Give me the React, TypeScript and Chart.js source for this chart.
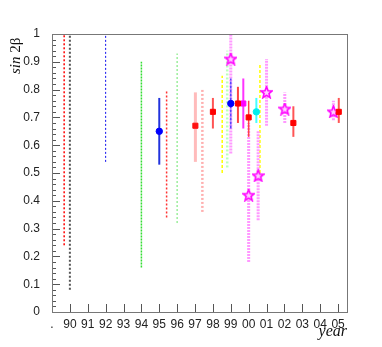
import React, { useEffect, useRef } from "react";
import { Chart, registerables } from "chart.js";

Chart.register(...registerables);

// x tick labels (years)
const yearTicks = [1989, 1990, 1991, 1992, 1993, 1994, 1995, 1996, 1997, 1998, 1999, 2000, 2001, 2002, 2003, 2004, 2005];
const yearLabels = [".", "90", "91", "92", "93", "94", "95", "96", "97", "98", "99", "00", "01", "02", "03", "04", "05"];

// ranges without central value (dotted lines)
const rangeYears = [1989.68, 1990.0, 1992.0, 1994.0, 1995.41, 1996.0, 1997.41, 1998.52, 1998.8, 2000.63];
const rangeLow = [0.24, 0.08, 0.54, 0.16, 0.34, 0.32, 0.36, 0.5, 0.52, 0.5];
const rangeHigh = [1.0, 1.0, 1.0, 0.9, 0.8, 0.93, 0.8, 0.85, 0.94, 0.89];

// measurements with central value and error bars
const measYears = [1995.0, 1997.02, 1998.0, 1999.0, 1999.4, 1999.7, 2000.0, 2000.43, 2002.5, 2005.04];
const measValues = [0.65, 0.67, 0.72, 0.75, 0.75, 0.75, 0.7, 0.72, 0.68, 0.72];
const measLow = [0.53, 0.54, 0.66, 0.66, 0.68, 0.66, 0.63, 0.68, 0.63, 0.68];
const measHigh = [0.77, 0.79, 0.77, 0.84, 0.81, 0.84, 0.76, 0.77, 0.74, 0.77];

// star-marked results with dotted (wide) error ranges
const starYears = [1999.0, 2000.0, 2000.53, 2001.0, 2002.02, 2004.74];
const starValues = [0.91, 0.42, 0.49, 0.79, 0.73, 0.72];
const starLow = [0.57, 0.18, 0.33, 0.67, 0.68, 0.69];
const starHigh = [1.0, 0.68, 0.65, 0.91, 0.79, 0.76];

// styles (kept separate from data)
const rangeStyles = [
  { color: "#ff0000", width: 1.5, dash: [2, 2] },
  { color: "#555555", width: 2, dash: [2, 2] },
  { color: "#1010ee", width: 1, dash: [2, 2] },
  { color: "#33dd33", width: 1.5, dash: [2, 1] },
  { color: "#ff3333", width: 1.5, dash: [2, 2] },
  { color: "#99ee99", width: 1.5, dash: [2, 2] },
  { color: "#ffb0b0", width: 2.5, dash: [2, 2] },
  { color: "#ffff00", width: 1.5, dash: [3, 2] },
  { color: "#bbffbb", width: 2.5, dash: [2, 2] },
  { color: "#ffff00", width: 1.5, dash: [3, 2] },
];

const measStyles = [
  { bar: "#2233dd", width: 2, dash: [], marker: "#0000ff", shape: "circle" },
  { bar: "#ffbbbb", width: 3, dash: [], marker: "#ff1111", shape: "rect" },
  { bar: "#ff5555", width: 2, dash: [], marker: "#ff0000", shape: "rect" },
  { bar: "#5544ff", width: 1.5, dash: [3, 1], marker: "#0000ff", shape: "circle" },
  { bar: "#ff4444", width: 2, dash: [], marker: "#ff0000", shape: "rect" },
  { bar: "#ff33ff", width: 2, dash: [], marker: "#ff00ff", shape: "rect" },
  { bar: "#ff4444", width: 1.5, dash: [], marker: "#ff0000", shape: "rect" },
  { bar: "#44ffff", width: 2, dash: [], marker: "#00eeee", shape: "circle" },
  { bar: "#ff5555", width: 2, dash: [], marker: "#ff0000", shape: "rect" },
  { bar: "#ff5555", width: 2, dash: [], marker: "#ff0000", shape: "rect" },
];

function makeStar(): HTMLCanvasElement {
  const c = document.createElement("canvas");
  c.width = 13;
  c.height = 13;
  const ctx = c.getContext("2d")!;
  const cx = 6.5, cy = 6.8, R = 6, r = 2.6;
  ctx.beginPath();
  for (let i = 0; i < 10; i++) {
    const rad = i % 2 === 0 ? R : r;
    const a = -Math.PI / 2 + (i * Math.PI) / 5;
    const px = cx + rad * Math.cos(a);
    const py = cy + rad * Math.sin(a);
    if (i === 0) ctx.moveTo(px, py);
    else ctx.lineTo(px, py);
  }
  ctx.closePath();
  ctx.fillStyle = "#ffd0ff";
  ctx.fill();
  ctx.strokeStyle = "#ff00ff";
  ctx.lineWidth = 1.6;
  ctx.stroke();
  return c;
}

const framePlugin = {
  id: "frame",
  afterDatasetsDraw(chart: any) {
    const { ctx, chartArea } = chart;
    const xs = chart.scales.x;
    const ys = chart.scales.y;
    const { left, right, top, bottom } = chartArea;
    ctx.save();
    ctx.strokeStyle = "#555555";
    ctx.lineWidth = 1;
    // ticks
    ctx.beginPath();
    for (let i = 1; i < yearTicks.length; i++) {
      const px = Math.round(xs.getPixelForValue(yearTicks[i])) + 0.5;
      ctx.moveTo(px, bottom);
      ctx.lineTo(px, bottom - 8);
    }
    for (let k = 0; k <= 50; k++) {
      const v = k / 50;
      const py = Math.round(ys.getPixelForValue(v)) + 0.5;
      const len = k % 5 === 0 ? 8 : 4;
      ctx.moveTo(left, py);
      ctx.lineTo(left + len, py);
    }
    ctx.stroke();
    // frame
    ctx.strokeStyle = "#777777";
    ctx.strokeRect(Math.round(left) + 0.5, Math.round(top) + 0.5, Math.round(right - left), Math.round(bottom - top));
    // y title
    ctx.fillStyle = "#111111";
    ctx.translate(16, 74);
    ctx.rotate(-Math.PI / 2);
    ctx.textBaseline = "middle";
    ctx.textAlign = "left";
    ctx.font = "italic 15px 'Liberation Serif'";
    ctx.fillText("sin", 0, 0);
    const w = ctx.measureText("sin ").width;
    ctx.font = "15px 'Liberation Serif'";
    ctx.fillText("2β", w, 0);
    ctx.restore();
    // x title
    ctx.save();
    ctx.fillStyle = "#111111";
    ctx.font = "italic 16px 'Liberation Serif'";
    ctx.textAlign = "right";
    ctx.textBaseline = "alphabetic";
    ctx.fillText("year", 347, 336);
    ctx.restore();
  },
};

export default function App() {
  const ref = useRef<HTMLCanvasElement | null>(null);
  useEffect(() => {
    if (!ref.current) return;
    const star = makeStar();
    const datasets: any[] = [];
    measYears.forEach((x, i) => {
      const s = measStyles[i];
      datasets.push({
        data: [
          { x, y: measLow[i] },
          { x, y: measValues[i] },
          { x, y: measHigh[i] },
        ],
        showLine: true,
        borderColor: s.bar,
        borderWidth: s.width,
        borderDash: s.dash,
        pointRadius: [0, s.shape === "rect" ? 3.6 : 3.2, 0],
        pointStyle: s.shape,
        pointBackgroundColor: s.marker,
        pointBorderColor: s.marker,
        pointBorderWidth: 1,
        order: 0,
      });
    });
    starYears.forEach((x, i) => {
      datasets.push({
        data: [
          { x, y: starLow[i] },
          { x, y: starValues[i] },
          { x, y: starHigh[i] },
        ],
        showLine: true,
        borderColor: "#ff99ff",
        borderWidth: 3,
        borderDash: [2, 1],
        pointRadius: [0, 6, 0],
        pointStyle: star,
        order: 1,
      });
    });
    rangeYears.forEach((x, i) => {
      const s = rangeStyles[i];
      datasets.push({
        data: [
          { x, y: rangeLow[i] },
          { x, y: rangeHigh[i] },
        ],
        showLine: true,
        borderColor: s.color,
        borderWidth: s.width,
        borderDash: s.dash,
        pointRadius: 0,
        order: 2,
      });
    });

    const chart = new Chart(ref.current, {
      type: "scatter",
      data: { datasets },
      options: {
        animation: false,
        responsive: true,
        maintainAspectRatio: false,
        layout: { padding: { top: 34, right: 35, left: 0, bottom: 0 } },
        plugins: { legend: { display: false }, tooltip: { enabled: false } },
        scales: {
          x: {
            type: "linear",
            min: 1989,
            max: 2005.5,
            grid: { display: false, drawTicks: false },
            border: { display: false },
            afterFit: (s: any) => {
              s.height = 35;
            },
            afterBuildTicks: (s: any) => {
              s.ticks = yearTicks.map((v) => ({ value: v }));
            },
            ticks: {
              autoSkip: false,
              maxRotation: 0,
              padding: 5,
              color: "#222222",
              font: { family: "'Liberation Sans'", size: 12 },
              callback: (v: any) => {
                const idx = yearTicks.indexOf(Number(v));
                return idx >= 0 ? yearLabels[idx] : "";
              },
            },
          },
          y: {
            type: "linear",
            min: 0,
            max: 1,
            grid: { display: false, drawTicks: false },
            border: { display: false },
            afterFit: (s: any) => {
              s.width = 52;
            },
            ticks: {
              stepSize: 0.1,
              padding: 12,
              color: "#222222",
              font: { family: "'Liberation Sans'", size: 12 },
              callback: (v: any) => {
                const n = Number(v);
                if (Math.abs(n) < 1e-9) return "0";
                if (Math.abs(n - 1) < 1e-9) return "1";
                return n.toFixed(1);
              },
            },
          },
        },
      },
      plugins: [framePlugin],
    });
    return () => chart.destroy();
  }, []);
  return (
    <div style={{ position: "fixed", left: 0, top: 0, width: 382, height: 347, background: "#fff" }}>
      <canvas ref={ref} />
    </div>
  );
}
